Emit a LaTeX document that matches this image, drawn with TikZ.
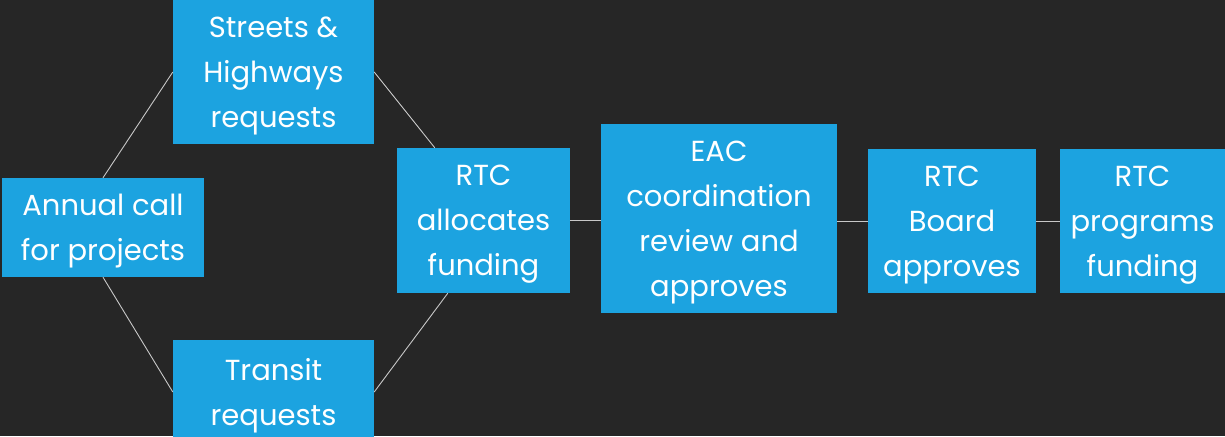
\documentclass[tikz,border=0pt]{standalone}
\usepackage{fontspec}
\setmainfont{Poppins}
\definecolor{bgdark}{HTML}{262626}
\definecolor{boxblue}{HTML}{1CA3E0}
\definecolor{linkgray}{HTML}{C8C8C8}
\tikzset{
  stage/.style={rectangle, fill=boxblue, text=white, inner sep=0pt, align=center,
    text depth=-8.5pt, font=\fontsize{29}{45}\selectfont},
  link/.style={draw=linkgray, line width=0.9pt}
}
\begin{document}
\begin{tikzpicture}[x=1pt, y=-1pt]
  \useasboundingbox (0,0) rectangle (1225,436);
  \clip (0,0) rectangle (1225,436);
  \fill[bgdark] (0,0) rectangle (1225,436);

  \node[stage, minimum width=202pt, minimum height=99pt] (call) at (103,227.5) {Annual call\\for projects};
  \node[stage, minimum width=201pt, minimum height=144pt] (streets) at (273.5,72) {Streets \&\\Highways\\requests};
  \node[stage, minimum width=201pt, minimum height=104pt] (transit) at (273.5,392) {Transit\\requests};
  \node[stage, minimum width=173pt, minimum height=145pt] (alloc) at (483.5,220.5) {RTC\\allocates\\funding};
  \node[stage, minimum width=236pt, minimum height=189pt] (eac) at (719,218.5) {EAC\\coordination\\review and\\approves};
  \node[stage, minimum width=168pt, minimum height=144pt] (board) at (952,221) {RTC\\Board\\approves};
  \node[stage, minimum width=165pt, minimum height=144pt] (programs) at (1142.5,221) {RTC\\programs\\funding};

  \draw[link] (call.north) -- (streets.west);
  \draw[link] (call.south) -- (transit.west);
  \draw[link] (streets.east) -- ([xshift=38pt]alloc.north west);
  \draw[link] (transit.east) -- ([xshift=51pt]alloc.south west);
  \draw[link] (alloc.east) -- (eac.west |- alloc.east);
  \draw[link] (eac.east |- board.west) -- (board.west);
  \draw[link] (board.east) -- (programs.west);
\end{tikzpicture}
\end{document}
